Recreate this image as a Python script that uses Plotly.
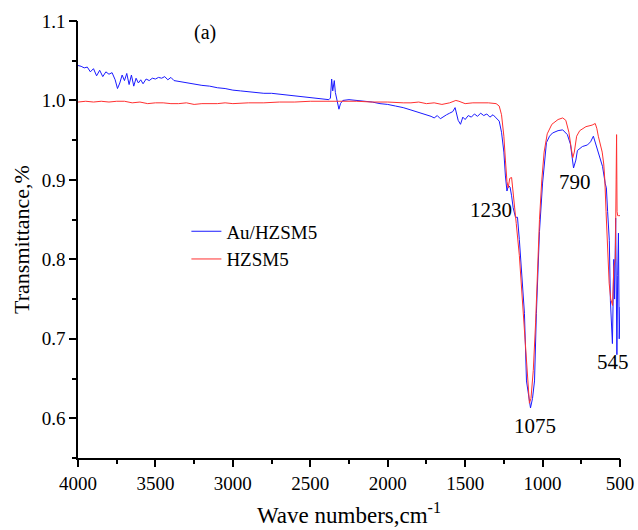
import plotly.graph_objects as go

# Au/HZSM5 (blue)
wn_au = [4000, 3980, 3960, 3940, 3920, 3900, 3880, 3860, 3840, 3820, 3800, 3780, 3760, 3745, 3730,
         3715, 3700, 3685, 3670, 3655, 3640, 3625, 3610, 3595, 3580, 3560, 3540, 3520, 3500, 3480,
         3460, 3440, 3420, 3400, 3380, 3350, 3300, 3250, 3200, 3150, 3100, 3050, 3000, 2950, 2900,
         2850, 2800, 2750, 2700, 2650, 2600, 2550, 2500, 2450, 2400, 2380, 2370, 2362, 2355, 2345,
         2338, 2325, 2315, 2305, 2290, 2250, 2200, 2150, 2100, 2050, 2000, 1950, 1900, 1850, 1800,
         1760, 1720, 1700, 1680, 1660, 1640, 1620, 1600, 1580, 1565, 1555, 1545, 1530, 1515, 1500,
         1480, 1460, 1440, 1420, 1400, 1380, 1360, 1340, 1320, 1300, 1280, 1265, 1250, 1240, 1230,
         1220, 1210, 1200, 1190, 1175, 1162, 1150, 1137, 1125, 1117, 1104, 1090, 1078, 1065, 1052,
         1040, 1033, 1020, 1000, 975, 955, 936, 900, 870, 840, 820, 800, 785, 775, 743, 710, 690,
         672, 653, 633, 613, 595, 588, 580, 569, 562, 549, 540, 535, 528, 524, 520, 515, 510, 505, 500]
t_au = [1.044, 1.043, 1.041, 1.042, 1.036, 1.040, 1.031, 1.038, 1.030, 1.036, 1.033, 1.035, 1.026, 1.015, 1.022,
        1.032, 1.025, 1.034, 1.020, 1.032, 1.018, 1.028, 1.022, 1.026, 1.021, 1.027, 1.025, 1.028, 1.027, 1.029,
        1.028, 1.030, 1.026, 1.029, 1.025, 1.024, 1.022, 1.021, 1.019, 1.018, 1.016, 1.015, 1.013, 1.012, 1.011,
        1.010, 1.009, 1.009, 1.008, 1.007, 1.006, 1.005, 1.004, 1.003, 1.002, 1.001, 1.003, 1.027, 1.012, 1.025,
        1.010, 0.995, 0.989, 0.996, 1.000, 1.001, 1.000, 0.999, 0.998, 0.996, 0.995, 0.993, 0.991, 0.988, 0.985,
        0.983, 0.980, 0.978, 0.981, 0.977, 0.980, 0.982, 0.984, 0.986, 0.991, 0.983, 0.975, 0.970, 0.979, 0.976,
        0.981, 0.979, 0.983, 0.980, 0.984, 0.981, 0.983, 0.979, 0.982, 0.978, 0.974, 0.960, 0.935, 0.905, 0.886,
        0.893, 0.891, 0.880, 0.865, 0.853, 0.853, 0.825, 0.790, 0.760, 0.732, 0.647, 0.625, 0.613, 0.625, 0.647,
        0.732, 0.773, 0.835, 0.896, 0.947, 0.955, 0.959, 0.962, 0.963, 0.957, 0.945, 0.915, 0.925, 0.937, 0.942, 0.944, 0.948,
        0.955, 0.942, 0.930, 0.917, 0.895, 0.890, 0.860, 0.824, 0.748, 0.694, 0.800, 0.750, 0.852, 0.720, 0.680, 0.780, 0.833, 0.700, 0.740]

# HZSM5 (red)
wn_h = [4000, 3950, 3900, 3850, 3800, 3750, 3700, 3650, 3600, 3550, 3500, 3450, 3400, 3350, 3300,
        3250, 3200, 3150, 3100, 3050, 3000, 2900, 2800, 2700, 2600, 2500, 2400, 2300, 2200, 2100,
        2000, 1900, 1850, 1800, 1750, 1700, 1650, 1600, 1560, 1540, 1520, 1500, 1450, 1400, 1350,
        1300, 1280, 1265, 1250, 1240, 1230, 1222, 1212, 1200, 1190, 1180, 1170, 1150, 1130, 1110,
        1095, 1085, 1075, 1060, 1045, 1035, 1020, 1005, 990, 970, 940, 900, 870, 850, 830,
        815, 805, 795, 780, 760, 740, 720, 700, 680, 660, 650, 640, 625, 615, 605,
        598, 590, 580, 570, 560, 553, 548, 540, 530, 525, 522, 519, 515, 510, 505, 500]
t_h = [0.998, 0.999, 0.998, 0.999, 0.998, 0.999, 0.999, 0.997, 0.998, 0.996, 0.997, 0.997, 0.996, 0.996, 0.997,
       0.995, 0.996, 0.996, 0.996, 0.997, 0.996, 0.997, 0.997, 0.998, 0.998, 0.999, 0.999, 0.999, 0.999, 0.998,
       0.998, 0.997, 0.997, 0.998, 0.996, 0.997, 0.995, 0.997, 1.000, 0.999, 0.997, 0.996, 0.997, 0.997, 0.997,
       0.996, 0.993, 0.982, 0.955, 0.925, 0.898, 0.890, 0.902, 0.903, 0.880, 0.862, 0.845, 0.805, 0.750, 0.690,
       0.645, 0.619, 0.625, 0.660, 0.720, 0.780, 0.850, 0.900, 0.935, 0.958, 0.970, 0.976, 0.978, 0.975, 0.960,
       0.940, 0.928, 0.935, 0.955, 0.962, 0.965, 0.967, 0.968, 0.969, 0.971, 0.965, 0.955, 0.945, 0.935, 0.920,
       0.900, 0.860, 0.810, 0.770, 0.750, 0.744, 0.742, 0.790, 0.800, 0.900, 0.957, 0.860, 0.855, 0.855, 0.855, 0.855]

peak_labels = ["1230", "790", "1075", "545"]
anno_x = [1330, 790, 1052, 548]
anno_y = [0.862, 0.897, 0.590, 0.671]

serif = "Liberation Serif, Times New Roman, serif"
x_range = [4000, 500]
y_range = [0.55, 1.1]

fig = go.Figure()
fig.add_trace(go.Scatter(x=wn_au, y=t_au, mode="lines", name="Au/HZSM5",
                         line=dict(color="#1a1aff", width=1)))
fig.add_trace(go.Scatter(x=wn_h, y=t_h, mode="lines", name="HZSM5",
                         line=dict(color="#ff3030", width=1)))
# single-point (invisible) trace binding the overlay axes that carry the short minor ticks
fig.add_trace(go.Scatter(x=[wn_h[-1]], y=[t_h[-1]], xaxis="x2", yaxis="y2", mode="lines",
                         showlegend=False, hoverinfo="skip", line=dict(width=0)))

for lab, ax_, ay_ in zip(peak_labels, anno_x, anno_y):
    fig.add_annotation(x=ax_, y=ay_, text=lab, showarrow=False,
                       font=dict(family=serif, size=21, color="black"))
fig.add_annotation(x=3180, y=1.085, text="(a)", showarrow=False,
                   font=dict(family=serif, size=20, color="black"))

minor_x = dict(ticks="outside", ticklen=4, tickwidth=1.5, tickcolor="black", dtick=250)
minor_y = dict(ticks="outside", ticklen=4, tickwidth=1.5, tickcolor="black", dtick=0.05)

fig.update_layout(
    width=638, height=530,
    margin=dict(l=78, r=18, t=21, b=72, autoexpand=False),
    paper_bgcolor="white", plot_bgcolor="white",
    font=dict(family=serif, size=19, color="black"),
    showlegend=True,
    legend=dict(x=0.2, y=0.562, xanchor="left", yanchor="top",
                bgcolor="rgba(0,0,0,0)", font=dict(family=serif, size=19),
                tracegroupgap=0, itemwidth=30),
    xaxis=dict(
        range=x_range, autorange=False, showgrid=False, zeroline=False, automargin=False,
        showline=True, linecolor="black", linewidth=1.5,
        ticks="outside", ticklen=7, tickwidth=1.5, tickcolor="black",
        tickmode="linear", tick0=500, dtick=500, minor=minor_x,
        title=dict(text="Wave numbers,cm<sup>-1</sup>", font=dict(family=serif, size=23), standoff=14),
        tickfont=dict(family=serif, size=19),
    ),
    yaxis=dict(
        range=y_range, autorange=False, showgrid=False, zeroline=False, automargin=False,
        showline=True, linecolor="black", linewidth=1.5,
        ticks="outside", ticklen=7, tickwidth=1.5, tickcolor="black",
        tickmode="linear", tick0=0.6, dtick=0.1, tickformat=".1f", minor=minor_y,
        title=dict(text="Transmittance,%", font=dict(family=serif, size=22), standoff=6),
        tickfont=dict(family=serif, size=19),
    ),
    xaxis2=dict(overlaying="x", anchor="y2", side="bottom", range=x_range, autorange=False,
                showgrid=False, zeroline=False, automargin=False,
                showline=False, ticks="outside", ticklen=4, tickwidth=1.5, tickcolor="black",
                tickmode="linear", tick0=500, dtick=250, showticklabels=False),
    yaxis2=dict(overlaying="y", anchor="x2", side="left", range=y_range, autorange=False,
                showgrid=False, zeroline=False, automargin=False,
                showline=False, ticks="outside", ticklen=4, tickwidth=1.5, tickcolor="black",
                tickmode="linear", tick0=0.55, dtick=0.05, showticklabels=False),
)

fig.write_html("out.html")
